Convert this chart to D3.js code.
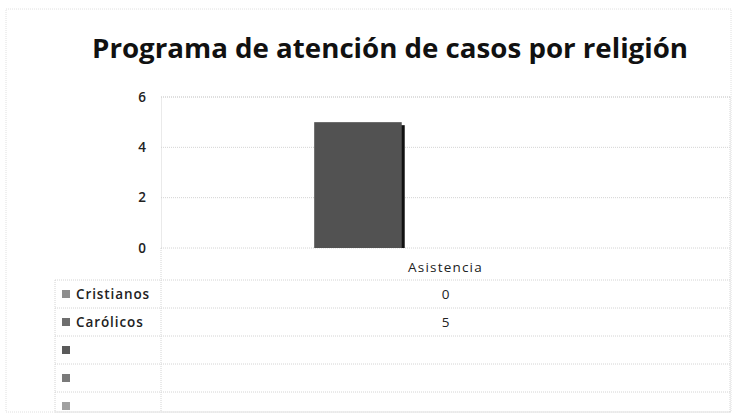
<!DOCTYPE html>
<html><head><meta charset="utf-8">
<script src="https://cdn.jsdelivr.net/npm/d3@7"></script>
<style>html,body{margin:0;padding:0;background:#fff;}svg{display:block;}</style>
</head><body>
<svg id="c" width="752" height="419"></svg>
<script>
const title = "Programa de atención de casos por religión";
const categories = ["Asistencia"];
const seriesNames = ["Cristianos", "Carólicos", "s3", "s4", "s5"];
const seriesLabels = ["Cristianos", "Carólicos", "", "", ""];
const seriesValues = [0, 5, null, null, null];
const yTicks = [0, 2, 4, 6];
const keyColors = ["#8e8e8e", "#6e6e6e", "#5a5a5a", "#7a7a7a", "#a0a0a0"];
const barColors = ["#777777", "#525252", "#555555", "#555555", "#555555"];

const svg = d3.select("#c");
const frame = {l: 6, t: 9, r: 731, b: 412};
const plot = {l: 161, r: 730, t: 97, b: 248};
const tableLeft = 55;
const headerBottom = 280;
const gridCol = "#d4d4d4";
const font = "'Open Sans', sans-serif";

svg.append("rect").attr("x", frame.l).attr("y", frame.t)
  .attr("width", frame.r - frame.l).attr("height", frame.b - frame.t)
  .attr("fill", "#fff").attr("stroke", "#e0e0e0").attr("stroke-dasharray", "1,1");

svg.append("text").attr("x", 390).attr("y", 58).attr("text-anchor", "middle")
  .attr("font-family", font).attr("font-weight", 700)
  .attr("font-size", 26).attr("fill", "#111")
  .attr("textLength", 596).attr("lengthAdjust", "spacingAndGlyphs")
  .text(title);

const y = d3.scaleLinear().domain([0, 6]).range([plot.b, plot.t]);
const x0 = d3.scaleBand().domain(categories).range([plot.l, plot.r]).padding(0);
const x1 = d3.scaleBand().domain(seriesNames).range([0, x0.bandwidth()])
  .paddingInner(0).paddingOuter(0.75);

svg.append("g").selectAll("line").data(yTicks).join("line")
  .attr("x1", plot.l).attr("x2", plot.r)
  .attr("y1", d => y(d)).attr("y2", d => y(d))
  .attr("stroke", gridCol).attr("stroke-dasharray", "1,1");

const yAxis = d3.axisLeft(y).tickValues(yTicks).tickFormat(d3.format("d")).tickSize(0).tickPadding(15);
const ya = svg.append("g").attr("transform", `translate(${plot.l},0)`).call(yAxis);
ya.select(".domain").attr("stroke", gridCol).attr("stroke-dasharray", "1,1");
ya.selectAll("text").attr("font-family", font)
  .attr("font-size", 13.5).attr("font-weight", 600).attr("fill", "#222");

const bars = svg.append("g");
categories.forEach(cat => {
  seriesNames.forEach((s, i) => {
    const v = seriesValues[i];
    if (v == null || v === 0) return;
    const bx = x0(cat) + x1(s), bw = x1.bandwidth();
    bars.append("rect").attr("x", bx + 3).attr("y", y(v) + 3)
      .attr("width", bw).attr("height", y(0) - y(v) - 3).attr("fill", "#111");
    bars.append("rect").attr("x", bx).attr("y", y(v))
      .attr("width", bw).attr("height", y(0) - y(v)).attr("fill", barColors[i]);
  });
});

const rows = d3.scaleBand().domain(seriesNames).range([headerBottom, headerBottom + 5 * 28]);
const t = svg.append("g");
categories.forEach(cat => {
  t.append("text").attr("x", x0(cat) + x0.bandwidth() / 2).attr("y", 272)
    .attr("text-anchor", "middle").attr("font-family", font)
    .attr("font-size", 13.5).attr("fill", "#222").attr("letter-spacing", 1.2).text(cat);
});
const lineYs = [headerBottom].concat(seriesNames.map(s => Math.min(rows(s) + rows.bandwidth(), frame.b)));
t.selectAll("line.h").data(lineYs).join("line")
  .attr("x1", tableLeft).attr("x2", plot.r)
  .attr("y1", d => d).attr("y2", d => d)
  .attr("stroke", gridCol).attr("stroke-dasharray", "1,1");
[[tableLeft, headerBottom], [plot.l, plot.b], [plot.r, plot.t]].forEach(([lx, y1]) => {
  t.append("line").attr("x1", lx).attr("x2", lx).attr("y1", y1).attr("y2", frame.b)
    .attr("stroke", gridCol).attr("stroke-dasharray", "1,1");
});
t.append("line").attr("x1", plot.l).attr("x2", plot.r).attr("y1", plot.t).attr("y2", plot.t)
  .attr("stroke", gridCol).attr("stroke-dasharray", "1,1");

seriesNames.forEach((s, i) => {
  const cy = Math.min(rows(s) + rows.bandwidth() / 2, frame.b - 6);
  t.append("rect").attr("x", 62).attr("y", cy - 4).attr("width", 8).attr("height", 8)
    .attr("fill", keyColors[i]);
  if (seriesLabels[i]) {
    t.append("text").attr("x", 76).attr("y", cy + 5)
      .attr("font-family", font).attr("font-size", 13.5)
      .attr("font-weight", 600).attr("fill", "#222").attr("letter-spacing", 0.9)
      .text(seriesLabels[i]);
  }
  if (seriesValues[i] != null) {
    categories.forEach(cat => {
      t.append("text").attr("x", x0(cat) + x0.bandwidth() / 2).attr("y", cy + 5)
        .attr("text-anchor", "middle").attr("font-family", font)
        .attr("font-size", 13.5).attr("fill", "#222").text(seriesValues[i]);
    });
  }
});
</script>
</body></html>
